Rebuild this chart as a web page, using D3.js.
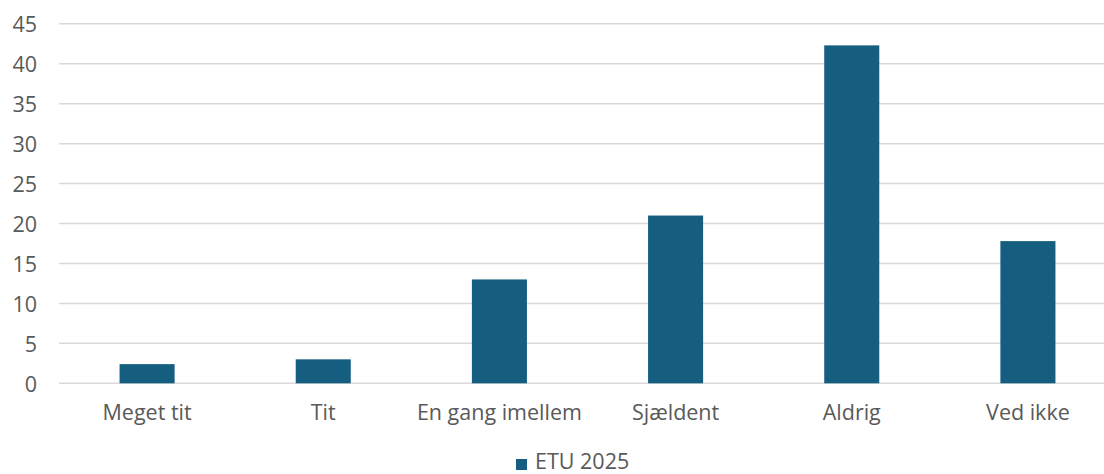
<!DOCTYPE html>
<html><head><meta charset="utf-8">
<script src="https://cdn.jsdelivr.net/npm/d3@7"></script>
<style>body{margin:0;background:#fff;overflow:hidden}svg{display:block}text{font-family:"Open Sans",sans-serif;fill:#595959}</style>
</head><body>
<script>
const categories = ["Meget tit","Tit","En gang imellem","Sjældent","Aldrig","Ved ikke"];
const values = [2.4, 3.0, 13.0, 21.0, 42.3, 17.8];
const yTicks = [0,5,10,15,20,25,30,35,40,45];
const seriesName = "ETU 2025";

const W=1104,H=474;
const svg=d3.select("body").append("svg").attr("width",W).attr("height",H);
const x=d3.scaleBand().domain(categories).range([59,1116]).paddingInner(0.6875).paddingOuter(0.34375);
const y=d3.scaleLinear().domain([0,45]).range([383.3,23.8]);

svg.append("g").selectAll("line").data(yTicks).join("line")
  .attr("x1",59).attr("x2",W).attr("y1",d=>y(d)).attr("y2",d=>y(d))
  .attr("stroke","#d9d9d9").attr("stroke-width",1.5);

const ya=svg.append("g").attr("transform","translate(37,0)")
  .call(d3.axisLeft(y).tickValues(yTicks).tickSize(0).tickPadding(0));
ya.select(".domain").remove();
ya.selectAll("text").style("font-size","21.5px").attr("fill","#595959").attr("dy","0.36em");

svg.append("g").selectAll("rect").data(values).join("rect")
  .attr("x",(d,i)=>x(categories[i])).attr("width",x.bandwidth())
  .attr("y",d=>y(d)).attr("height",d=>y(0)-y(d)).attr("fill","#165E80");

const xa=svg.append("g").attr("transform","translate(0,383.3)")
  .call(d3.axisBottom(x).tickSize(0).tickPadding(0));
xa.select(".domain").remove();
xa.selectAll("text").style("font-size","21.5px").attr("fill","#595959").attr("dy","0").attr("y",37);

const lg=svg.append("g");
lg.append("rect").attr("x",516).attr("y",459).attr("width",11).attr("height",11).attr("fill","#165E80");
lg.append("text").attr("x",535).attr("y",469).style("font-size","21.5px").text(seriesName);
</script>
</body></html>
